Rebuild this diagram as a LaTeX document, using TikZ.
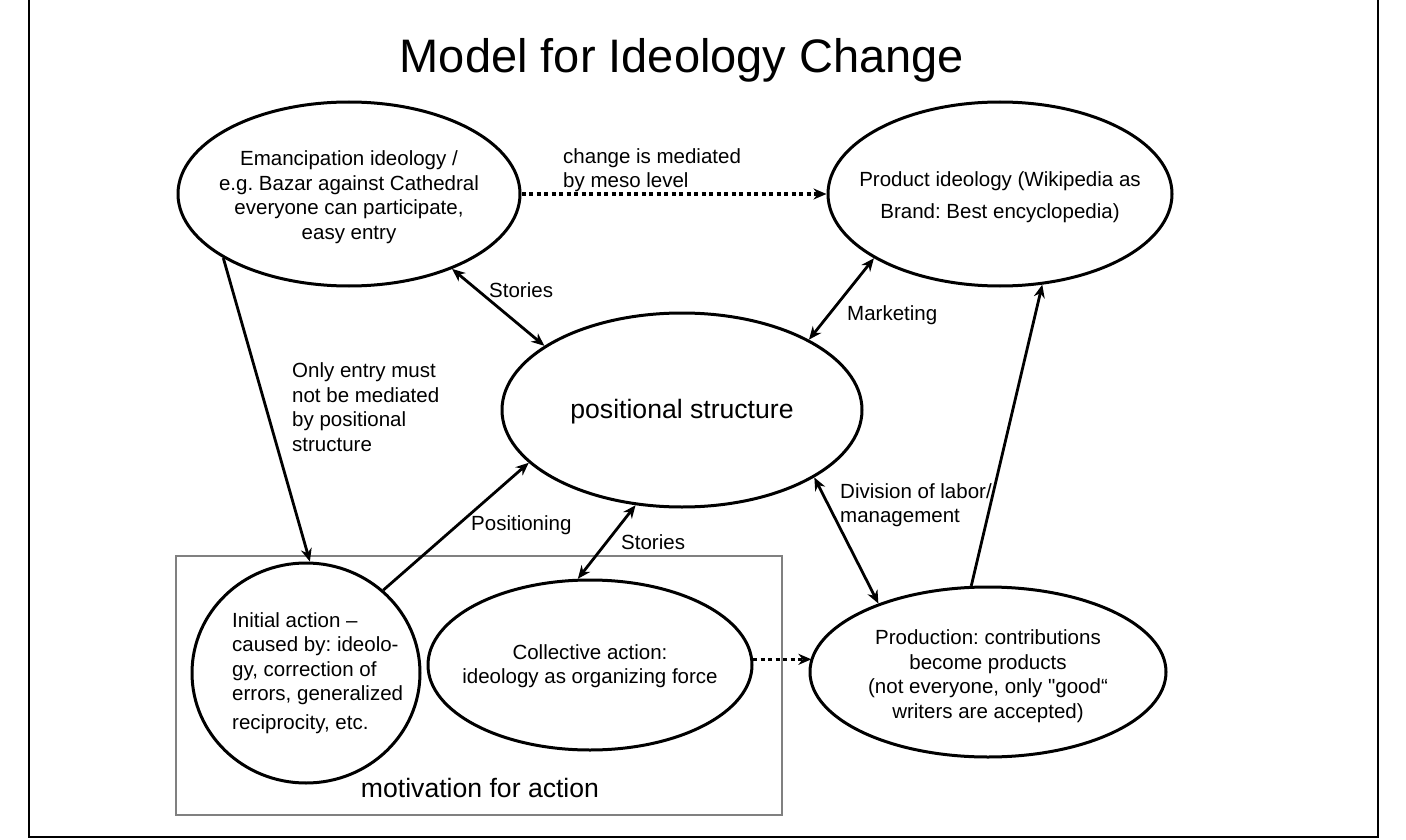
\documentclass[tikz,border=0pt]{standalone}
\usepackage{fontspec}
\setmainfont{Liberation Sans}
\usetikzlibrary{arrows.meta,shapes.geometric}
\frenchspacing

\begin{document}
\begin{tikzpicture}[x=1pt,y=-1pt,>={Stealth[length=13pt,width=11pt]},
    oval/.style={ellipse,draw,line width=3pt,inner sep=0pt},
    txt/.style={font=\fontsize{20.5}{24.5}\selectfont,align=center,inner sep=0pt},
    lbl/.style={txt,align=left,anchor=west},
    big/.style={font=\fontsize{26.6}{30}\selectfont,inner sep=0pt},
    link/.style={line width=2.8pt},
    dots/.style={line width=3.5pt,dash pattern=on 4pt off 3.5pt}]
    \useasboundingbox (0,0) rectangle (1406,840);
    \draw[line width=1.6pt] (29,0) -- (29,837) -- (1378,837) -- (1378,0);
    \node[font=\fontsize{47}{56}\selectfont,anchor=base,inner sep=0pt] (title) at (682,73) {Model for Ideology Change};
    % motivation box
    \node[draw=black!50,line width=1.5pt,minimum width=606pt,minimum height=259pt,inner sep=0pt] (motivBox) at (479,685.5) {};
    \node[big] (motivText) at (480,788) {motivation for action};
    % ellipses
    \node[oval,minimum width=342pt,minimum height=184pt] (emancip) at (349,194) {};
    \node[txt] (emancipText) at (349,197) {Emancipation ideology /\\e.g. Bazar against Cathedral\\everyone can participate,\\easy entry};
    \node[oval,minimum width=344pt,minimum height=184pt] (product) at (1000,194) {};
    \node[txt] (productText) at (1000,197) {Product ideology (Wikipedia as\\[7pt]Brand: Best encyclopedia)};
    \node[oval,minimum width=360pt,minimum height=194pt] (posStruct) at (682,410) {};
    \node[big] (posText) at (682,412) {positional structure};
    \node[oval,minimum width=228pt,minimum height=220pt] (initial) at (306,673) {};
    \node[lbl] (initialText) at (232,673) {Initial action –\\caused by: ideolo-\\gy, correction of\\errors, generalized\\[4.5pt]reciprocity, etc.};
    \node[oval,minimum width=324pt,minimum height=170pt] (collective) at (590,665) {};
    \node[txt] (collectiveText) at (590,666) {Collective action:\\ideology as organizing force};
    \node[oval,minimum width=356pt,minimum height=170pt] (production) at (988,672) {};
    \node[txt] (productionText) at (988,676) {Production: contributions\\become products\\(not everyone, only \textquotedbl good“\\writers are accepted)};
    % labels
    \node[lbl] (meso) at (563,170) {change is mediated\\by meso level};
    \node[lbl] (storiesTop) at (489,290) {Stories};
    \node[lbl] (marketing) at (847,315) {Marketing};
    \node[lbl] (onlyEntry) at (292,407) {Only entry must\\not be mediated\\by positional\\structure};
    \node[lbl] (positioning) at (471,525) {Positioning};
    \node[lbl] (storiesLow) at (621,542) {Stories};
    \node[lbl] (division) at (840,505) {Division of labor/\\management};
    % connectors
    \draw[dots,->] (emancip.east) -- (product.west);
    \draw[link,->] (emancip.207) -- (initial.88);
    \draw[link,<->] (emancip.324) -- (posStruct.155);
    \draw[link,<->] (product.207) -- (posStruct.29);
    \draw[link,->] (production.101) -- (product.295);
    \draw[link,->] (initial.47) -- (posStruct.199);
    \draw[link,<->] (collective.98) -- (posStruct.244);
    \draw[link,<->] (production.148) -- (posStruct.333);
    \draw[dots,->] (collective.2.8) -- (production.175 |- collective.2.8);
\end{tikzpicture}
\end{document}
